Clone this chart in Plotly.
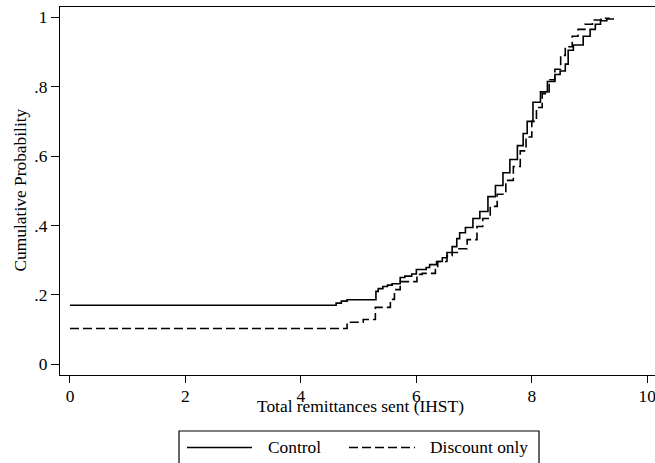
import plotly.graph_objects as go

# ---- data ----
control_x = [0, 4.61, 4.70, 4.80, 5.30, 5.34, 5.42, 5.50, 5.58, 5.72, 5.80, 5.92, 6.00,
             6.17, 6.23, 6.35, 6.45, 6.53, 6.62, 6.70, 6.75, 6.85, 6.98, 7.10, 7.24,
             7.37, 7.50, 7.62, 7.75, 7.85, 7.92, 8.02, 8.15, 8.27, 8.40, 8.49, 8.58,
             8.63, 8.72, 8.89, 9.01, 9.10, 9.19, 9.30, 9.41]
control_y = [0.170, 0.176, 0.182, 0.186, 0.210, 0.218, 0.224, 0.228, 0.232, 0.250, 0.254,
             0.260, 0.273, 0.279, 0.287, 0.296, 0.307, 0.322, 0.339, 0.362, 0.379, 0.394,
             0.420, 0.440, 0.483, 0.515, 0.552, 0.590, 0.630, 0.665, 0.700, 0.755, 0.785,
             0.815, 0.835, 0.845, 0.865, 0.905, 0.920, 0.945, 0.965, 0.980, 0.990, 0.995,
             0.997]

discount_x = [0, 4.80, 5.08, 5.29, 5.55, 5.62, 5.72, 6.01, 6.10, 6.33, 6.37, 6.53, 6.62,
              6.71, 6.88, 7.05, 7.15, 7.28, 7.40, 7.55, 7.68, 7.80, 7.90, 8.00, 8.08,
              8.18, 8.30, 8.40, 8.50, 8.58, 8.70, 8.80, 8.92, 9.05, 9.20, 9.35]
discount_y = [0.103, 0.121, 0.129, 0.164, 0.187, 0.215, 0.238, 0.259, 0.262, 0.273, 0.296,
              0.313, 0.322, 0.333, 0.359, 0.397, 0.420, 0.455, 0.490, 0.530, 0.570, 0.615,
              0.655, 0.700, 0.740, 0.780, 0.820, 0.850, 0.890, 0.915, 0.945, 0.965, 0.980,
              0.992, 0.997, 0.997]

series_names = ["Control", "Discount only"]
x_ticks = [0, 2, 4, 6, 8, 10]
x_tick_labels = ["0", "2", "4", "6", "8", "10"]
y_ticks = [0, 0.2, 0.4, 0.6, 0.8, 1.0]
y_tick_labels = ["0", ".2", ".4", ".6", ".8", "1"]
x_title = "Total remittances sent (IHST)"
y_title = "Cumulative Probability"

# ---- layout geometry ----
W, H = 655, 463
L, R, T, B = 60, 0, 7, 88
PW, PH = W - L - R, H - T - B
FONT = "Liberation Serif"
FS = 17.4


def px_x(p):
    return (p - L) / PW


def px_y(p):
    return (H - B - p) / PH


fig = go.Figure()
fig.add_trace(go.Scatter(x=control_x, y=control_y, mode="lines", name=series_names[0],
                         line=dict(color="black", width=1.6, shape="hv"), showlegend=False))
fig.add_trace(go.Scatter(x=discount_x, y=discount_y, mode="lines", name=series_names[1],
                         line=dict(color="black", width=1.6, shape="hv", dash="9px,4px"),
                         showlegend=False))

shapes = [
    # legend box
    dict(type="rect", xref="paper", yref="paper", x0=px_x(179), x1=px_x(539),
         y0=px_y(475), y1=px_y(431), line=dict(color="black", width=1.2)),
    dict(type="line", xref="paper", yref="paper", x0=px_x(187), x1=px_x(252),
         y0=px_y(447.5), y1=px_y(447.5), line=dict(color="black", width=1.6)),
    dict(type="line", xref="paper", yref="paper", x0=px_x(349), x1=px_x(415),
         y0=px_y(447.5), y1=px_y(447.5), line=dict(color="black", width=1.6, dash="9px,4px")),
]
annotations = [
    dict(text=series_names[0], xref="paper", yref="paper", x=px_x(266), y=px_y(447.5),
         xanchor="left", yanchor="middle", showarrow=False, font=dict(size=FS)),
    dict(text=series_names[1], xref="paper", yref="paper", x=px_x(428), y=px_y(447.5),
         xanchor="left", yanchor="middle", showarrow=False, font=dict(size=FS)),
    dict(text=x_title, xref="paper", yref="paper", x=px_x(360), y=px_y(405.5),
         xanchor="center", yanchor="middle", showarrow=False, font=dict(size=FS)),
    dict(text=y_title, xref="paper", yref="paper", x=px_x(19), y=px_y(190.5),
         xanchor="center", yanchor="middle", showarrow=False, textangle=-90,
         font=dict(size=FS)),
]

fig.update_layout(
    width=W, height=H,
    margin=dict(l=L, r=R, t=T, b=B, pad=0),
    paper_bgcolor="white", plot_bgcolor="white",
    font=dict(family=FONT, size=FS, color="black"),
    showlegend=False,
    shapes=shapes, annotations=annotations,
    xaxis=dict(range=[-0.173, 10.134], tickvals=x_ticks, ticktext=x_tick_labels,
               ticks="outside", ticklen=7, tickwidth=1.2, tickcolor="black",
               showline=True, linecolor="black", linewidth=1.3, mirror=True,
               showgrid=False, zeroline=False, automargin=False,
               ticklabeloverflow="allow", ticklabelstandoff=-2,
               tickfont=dict(size=FS)),
    yaxis=dict(range=[-0.031, 1.0295], tickvals=y_ticks, ticktext=y_tick_labels,
               ticks="outside", ticklen=8, tickwidth=1.2, tickcolor="black",
               showline=True, linecolor="black", linewidth=1.3, mirror=False,
               showgrid=False, zeroline=False, automargin=False,
               tickfont=dict(size=FS)),
)

fig.write_html("out.html", post_script="document.body.style.margin='0';",
               config={"displayModeBar": False})
